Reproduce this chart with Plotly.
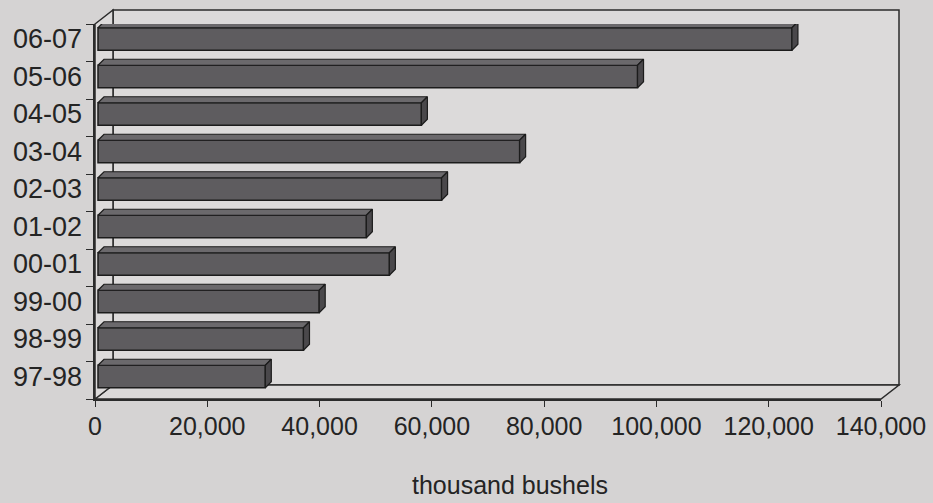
import plotly.graph_objects as go

# seasons, bottom to top, and volumes in thousand bushels
seasons = ["97-98", "98-99", "99-00", "00-01", "01-02",
           "02-03", "03-04", "04-05", "05-06", "06-07"]
volumes = [29800, 36600, 39400, 51900, 47800,
           61200, 75100, 57600, 96100, 123600]
x_ticks = [0, 20000, 40000, 60000, 80000, 100000, 120000, 140000]
x_tick_text = ["0", "20,000", "40,000", "60,000", "80,000",
               "100,000", "120,000", "140,000"]

W, H = 933, 503
X0, X1 = 95, 881        # front floor, pixels
Y_TOP, Y_BOT = 24, 399  # front left edge, pixels
DEPTH = (18, -14)       # oblique offset of the back wall
XMAX = 140000

ux = XMAX / (X1 - X0)               # data units per pixel
uy = len(seasons) / (Y_BOT - Y_TOP)

def px(x):
    return x / W

def py(y):
    return 1 - y / H

FONT = "Liberation Sans, Arial, sans-serif"
INK = "#242424"
EDGE = "#2b2b2b"
WALL = "#dcdada"

bar_w = 0.6
dx, dy = 6 * ux, 6 * uy
ys = list(range(len(seasons)))

# top and side faces of the 3d bars
top_x, top_y, side_x, side_y = [], [], [], []
for c, v in zip(ys, volumes):
    h = bar_w / 2
    top_x += [0, dx, v + dx, v, 0, None]
    top_y += [c + h, c + h + dy, c + h + dy, c + h, c + h, None]
    side_x += [v, v, v + dx, v + dx, v, None]
    side_y += [c - h, c + h, c + h + dy, c - h + dy, c - h, None]

fig = go.Figure()
# invisible helper so the front (tick) axes get a subplot
fig.add_trace(go.Scatter(
    x=[x_ticks[0]], y=[ys[0]], mode="markers", marker=dict(opacity=0),
    hoverinfo="skip"
))
fig.add_trace(go.Bar(
    x=volumes, y=ys, orientation="h", width=bar_w,
    marker=dict(color="#5e5c5f", line=dict(color="#1c1c1c", width=1.5)),
    xaxis="x2", yaxis="y2", hoverinfo="skip"
))
fig.add_trace(go.Scatter(
    x=top_x, y=top_y, mode="lines", fill="toself", fillcolor="#6b696c",
    line=dict(color="#1c1c1c", width=1.2), xaxis="x2", yaxis="y2",
    hoverinfo="skip"
))
fig.add_trace(go.Scatter(
    x=side_x, y=side_y, mode="lines", fill="toself", fillcolor="#4a484b",
    line=dict(color="#1c1c1c", width=1.2), xaxis="x2", yaxis="y2",
    hoverinfo="skip"
))

# walls and floor of the 3d box
bx0, bx1 = X0 + DEPTH[0], X1 + DEPTH[0]
by0, by1 = Y_TOP + DEPTH[1], Y_BOT + DEPTH[1]
def poly(pts):
    return "M " + " L ".join(f"{px(a)},{py(b)}" for a, b in pts) + " Z"

shapes = [
    dict(type="path", path=poly([(bx0, by0), (bx1, by0), (bx1, by1), (bx0, by1)]),
         fillcolor=WALL, line=dict(color=EDGE, width=1.5)),
    dict(type="path", path=poly([(X0, Y_BOT), (X1, Y_BOT), (bx1, by1), (bx0, by1)]),
         fillcolor=WALL, line=dict(color=EDGE, width=1.5)),
    dict(type="path", path=poly([(X0, Y_TOP), (bx0, by0), (bx0, by1), (X0, Y_BOT)]),
         fillcolor=WALL, line=dict(color=EDGE, width=1.5)),
]
for s in shapes:
    s.update(xref="paper", yref="paper", layer="below")

fig.update_layout(
    template="none",
    width=W, height=H,
    margin=dict(l=0, r=0, t=0, b=0, autoexpand=False),
    paper_bgcolor="#d5d3d3",
    plot_bgcolor="rgba(0,0,0,0)",
    showlegend=False,
    font=dict(family=FONT, color=INK),
    shapes=shapes,
    xaxis=dict(
        domain=[px(X0), px(X1)], range=[0, XMAX], anchor="y",
        tickvals=x_ticks, ticktext=x_tick_text, ticks="outside", ticklen=6,
        tickcolor=EDGE, tickfont=dict(size=25), ticklabelstandoff=-2,
        showline=True, linecolor=EDGE, linewidth=1.5, automargin=False,
        showgrid=False, zeroline=False, fixedrange=True
    ),
    yaxis=dict(
        domain=[py(Y_BOT), py(Y_TOP)], range=[-0.5, len(seasons) - 0.5],
        anchor="x", tickvals=[k - 0.5 for k in range(len(seasons) + 1)],
        showticklabels=False, ticks="outside", ticklen=7, tickcolor=EDGE,
        showline=True, linecolor=EDGE, linewidth=1.5, automargin=False,
        showgrid=False, zeroline=False, fixedrange=True
    ),
    xaxis2=dict(
        overlaying="x", anchor="y2", range=[-3 * ux, XMAX - 3 * ux],
        visible=False, fixedrange=True, automargin=False
    ),
    yaxis2=dict(
        overlaying="y", anchor="x2", side="left",
        range=[-0.5 - 3.75 * uy, len(seasons) - 0.5 - 3.75 * uy],
        tickvals=ys, ticktext=seasons, tickfont=dict(size=27),
        ticks="", ticklabelstandoff=12, showline=False, automargin=False,
        showgrid=False, zeroline=False, fixedrange=True
    ),
    annotations=[dict(
        text="thousand bushels", xref="paper", yref="paper",
        x=px(510), y=py(485), xanchor="center", yanchor="middle",
        showarrow=False, font=dict(size=25)
    )]
)

fig.write_html(
    "out.html",
    config={"displayModeBar": False},
    post_script="document.body.style.margin='0';"
)
